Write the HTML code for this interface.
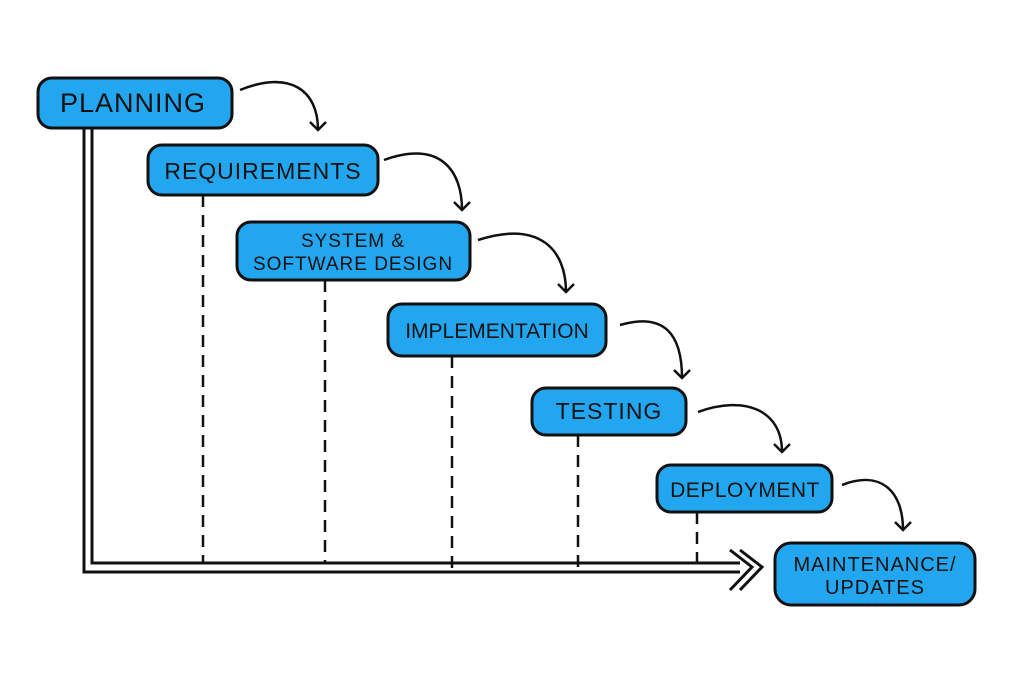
<!DOCTYPE html><html><head><style>body{margin:0;background:#fff}svg{display:block}text{font-family:"Liberation Sans",sans-serif;font-size:23px;fill:#111;text-anchor:middle;letter-spacing:1px}</style></head><body>
<svg width="1017" height="700" viewBox="0 0 1017 700">
<defs><marker id="a" markerWidth="18" markerHeight="18" refX="9" refY="9" orient="auto" markerUnits="userSpaceOnUse"><path d="M1,1 L9,9 L1,17" fill="none" stroke="#111" stroke-width="2.5"/></marker></defs>
<g stroke="#111" stroke-width="3" fill="none">
<path d="M84,128 L84,572 L740,572 M92,128 L92,563 L740,563"/>
<path d="M730,550 L752,567 L730,590 M740,550 L762,567 L740,590" stroke-width="3"/>
<g stroke-dasharray="12,8" stroke-width="2.5"><path d="M203,195V562M325,280V562M452,356V568M578,435V568M697,512V568"/></g>
<g stroke-width="2.5" marker-end="url(#a)">
<path d="M240,90 C290,70 318,90 318,130"/>
<path d="M384,160 C440,140 462,170 462,210"/>
<path d="M478,240 C540,220 566,250 566,292"/>
<path d="M620,325 C665,312 682,335 682,378"/>
<path d="M698,412 C745,395 782,410 782,452"/>
<path d="M842,485 C880,470 903,490 903,530"/>
</g>
<g fill="#22a6f0" stroke-width="3">
<rect x="38" y="78" width="194" height="50" rx="14"/>
<rect x="148" y="145" width="230" height="50" rx="14"/>
<rect x="237" y="222" width="233" height="58" rx="14"/>
<rect x="388" y="304" width="218" height="52" rx="14"/>
<rect x="532" y="388" width="154" height="47" rx="14"/>
<rect x="657" y="465" width="175" height="47" rx="14"/>
<rect x="775" y="543" width="200" height="62" rx="16"/>
</g></g>
<text x="133" y="112" style="font-size:27px">PLANNING</text>
<text x="263" y="179">REQUIREMENTS</text>
<text x="353" y="247" style="font-size:19px">SYSTEM &amp;</text>
<text x="353" y="270" style="font-size:19px">SOFTWARE DESIGN</text>
<text x="497" y="338" style="font-size:21px;letter-spacing:0">IMPLEMENTATION</text>
<text x="609" y="419">TESTING</text>
<text x="745" y="497" style="font-size:21px;letter-spacing:0.5px">DEPLOYMENT</text>
<text x="875" y="571" style="font-size:20px">MAINTENANCE/</text>
<text x="875" y="594" style="font-size:20px">UPDATES</text>
</svg></body></html>
